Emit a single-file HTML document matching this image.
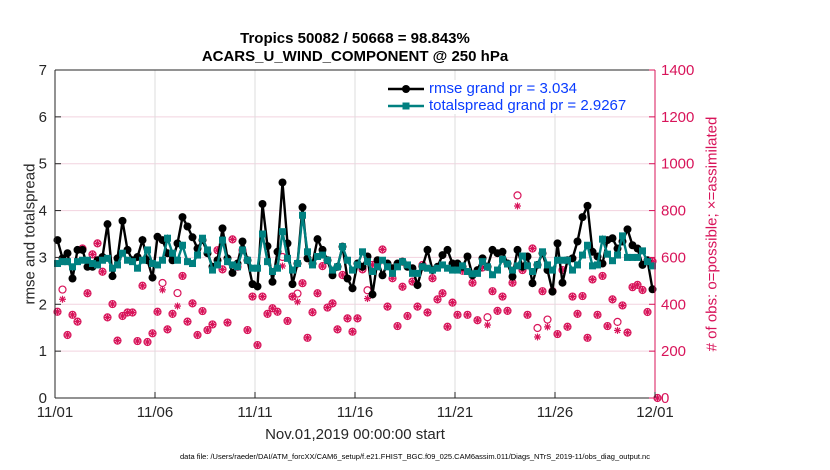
<!DOCTYPE html>
<html><head><meta charset="utf-8"><style>
body{margin:0;background:#fff;}
svg{display:block;font-family:"Liberation Sans",sans-serif;}
</style></head><body>
<svg id="chart" width="830" height="470" viewBox="0 0 830 470"></svg>
<script>
const rmse=[3.37,2.98,3.09,2.55,3.16,3.16,2.80,2.80,2.94,3.01,3.71,2.60,2.98,3.78,3.16,2.94,3.01,3.37,2.94,2.57,3.44,3.37,3.09,2.94,3.30,3.86,3.66,3.43,3.19,3.37,3.09,2.80,2.94,3.62,2.98,2.67,2.87,3.34,2.94,2.43,2.38,
4.14,3.24,2.48,3.12,4.60,3.30,2.43,2.87,4.07,2.98,2.87,3.39,3.16,2.94,2.62,2.80,3.23,2.55,2.34,2.87,2.80,3.02,2.21,2.94,2.62,2.87,2.77,2.87,2.91,2.80,2.77,2.41,2.80,3.16,2.73,2.80,3.05,3.16,2.87,2.87,
2.80,3.02,2.62,2.73,2.98,2.80,3.16,3.09,3.12,2.87,2.59,3.16,2.80,3.02,2.45,2.84,3.09,2.73,2.27,3.30,2.46,2.94,2.98,3.34,3.86,4.10,3.12,3.02,2.87,3.37,3.41,3.19,3.34,3.60,3.26,3.19,2.84,2.94,2.32];
const spread=[2.87,2.91,2.91,2.80,2.91,2.94,2.94,2.87,2.84,2.94,2.98,2.77,2.84,3.09,2.94,2.91,2.77,2.94,3.16,2.87,2.84,2.94,3.41,3.09,2.94,3.26,2.91,2.87,3.05,3.41,3.16,2.73,2.84,3.37,2.91,2.84,2.80,3.16,2.94,2.77,2.77,
3.50,2.91,2.70,2.77,3.55,2.98,2.73,2.87,3.90,3.12,2.84,3.02,3.05,2.94,2.73,2.80,3.23,2.94,2.73,2.84,3.12,2.91,2.70,2.80,2.94,2.80,2.66,2.80,2.91,2.84,2.66,2.66,2.80,2.77,2.73,2.77,2.84,2.77,2.73,2.73,
2.82,2.70,2.65,2.66,2.91,2.80,2.63,2.73,2.96,2.86,2.73,2.82,3.03,2.82,2.70,2.84,3.12,2.84,2.73,2.94,2.94,2.94,2.73,2.84,3.05,3.26,2.82,2.84,3.39,3.07,2.93,3.05,3.46,3.00,3.00,3.00,3.14,2.91,2.82];
const possible=[368,450,269,355,326,638,447,613,660,539,344,401,245,350,365,365,243,479,239,276,368,478,293,359,435,521,326,404,269,371,290,314,631,549,322,677,560,631,290,433,226,
433,359,383,368,589,329,433,433,490,257,366,447,563,386,404,293,525,340,283,340,549,447,568,575,634,390,511,307,475,350,497,390,568,365,511,421,447,304,407,355,
543,355,492,332,557,332,456,372,433,372,492,852,546,355,638,286,456,322,456,273,546,304,433,359,435,257,506,355,521,307,421,312,395,279,473,483,461,367,583,0];
const assimilated=[368,430,269,355,326,638,447,613,660,539,344,401,245,350,365,365,243,479,239,276,368,470,293,359,401,521,326,404,269,371,290,314,631,549,322,677,560,631,290,433,226,
433,359,383,368,572,329,433,419,490,257,366,447,563,386,404,293,525,340,283,340,549,433,568,575,634,390,511,307,475,350,497,390,568,365,511,421,447,304,407,355,
543,355,492,332,557,320,456,372,433,372,492,828,546,355,638,269,456,312,456,273,546,304,433,359,435,257,506,355,521,307,421,297,395,279,473,483,461,367,583,0];
const yTicks=[0,1,2,3,4,5,6,7];
const y2Ticks=[0,200,400,600,800,1000,1200,1400];
const xTickLabels=["11/01","11/06","11/11","11/16","11/21","11/26","12/01"];
const xTickDays=[0,5,10,15,20,25,30];

const NS="http://www.w3.org/2000/svg";
const svg=document.getElementById('chart');
const L=55,R=655,T=70,B=398;
const X=d=>L+(R-L)*d/30;
const Y=v=>B-(B-T)*v/7;
const Y2=v=>B-(B-T)*v/1400;
const tIdx=i=>0.125+0.25*i;
const MAG="#d8145a";
function el(tag,attrs,parent){const e=document.createElementNS(NS,tag);for(const k in attrs)e.setAttribute(k,attrs[k]);(parent||svg).appendChild(e);return e;}
function txt(s,attrs,parent){const e=el('text',attrs,parent);e.textContent=s;return e;}

yTicks.forEach(v=>{const g=el('line',{x1:L,x2:R,y1:Y(v),y2:Y(v),stroke:"#f2d3df","stroke-width":1});
});
xTickDays.forEach(d=>{const g=el('line',{x1:X(d),x2:X(d),y1:T,y2:B,stroke:"#dddddd","stroke-width":1});
});

const obs=el('g',{});
possible.forEach((v,i)=>{const c=el('circle',{cx:X(tIdx(i)),cy:Y2(v)-(v!==assimilated[i]?3:0),r:3.5,fill:"none",stroke:MAG,"stroke-width":1.2},obs);
});
assimilated.forEach((v,i)=>{const x=X(tIdx(i)),y=Y2(v)+(v!==possible[i]?2:0);const g=el('g',{stroke:MAG,"stroke-width":1.2},obs);

el('line',{x1:x-3.5,x2:x+3.5,y1:y,y2:y},g);el('line',{x1:x,x2:x,y1:y-3.5,y2:y+3.5},g);
el('line',{x1:x-2.5,x2:x+2.5,y1:y-2.5,y2:y+2.5},g);el('line',{x1:x-2.5,x2:x+2.5,y1:y+2.5,y2:y-2.5},g);});

const rl=el('polyline',{points:rmse.map((v,i)=>X(tIdx(i))+","+Y(v)).join(" "),fill:"none",stroke:"#000","stroke-width":2.4});

rmse.forEach((v,i)=>{const c=el('circle',{cx:X(tIdx(i)),cy:Y(v),r:4,fill:"#000"});
});
const sl=el('polyline',{points:spread.map((v,i)=>X(tIdx(i))+","+Y(v)).join(" "),fill:"none",stroke:"#008080","stroke-width":2.4});

spread.forEach((v,i)=>{const r=el('rect',{x:X(tIdx(i))-3.5,y:Y(v)-3.5,width:7,height:7,fill:"#008080"});
});

el('line',{x1:L,x2:R,y1:T,y2:T,stroke:"#262626"});
el('line',{x1:L,x2:R,y1:B,y2:B,stroke:"#262626"});
el('line',{x1:L,x2:L,y1:T,y2:B,stroke:"#262626"});
el('line',{x1:R,x2:R,y1:T,y2:B,stroke:MAG});
yTicks.forEach(v=>{el('line',{x1:L,x2:L+6,y1:Y(v),y2:Y(v),stroke:"#262626"});
const t=txt(String(v),{x:L-8,y:Y(v)+5,"text-anchor":"end","font-size":15,fill:"#262626"});
});
y2Ticks.forEach(v=>{el('line',{x1:R-6,x2:R,y1:Y2(v),y2:Y2(v),stroke:MAG});
const t=txt(String(v),{x:R+6,y:Y2(v)+5,"font-size":15,fill:MAG});
});
xTickDays.forEach((d,i)=>{el('line',{x1:X(d),x2:X(d),y1:B,y2:B-6,stroke:"#262626"});
const t=txt(xTickLabels[i],{x:X(d),y:B+19,"text-anchor":"middle","font-size":15,fill:"#262626"});
});
</script>
<div style="position:absolute;left:0;top:0;width:830px;height:470px;pointer-events:none;font-family:'Liberation Sans',sans-serif;">
<div style="position:absolute;left:55px;width:600px;top:30px;text-align:center;font-weight:bold;font-size:15px;line-height:18px;color:#000;">Tropics 50082 / 50668 = 98.843%<br>ACARS_U_WIND_COMPONENT @ 250 hPa</div>
<div style="position:absolute;left:30px;top:234px;transform:translate(-50%,-50%) rotate(-90deg);white-space:nowrap;font-size:15px;color:#262626;">rmse and totalspread</div>
<div style="position:absolute;left:712px;top:234px;transform:translate(-50%,-50%) rotate(-90deg);white-space:nowrap;font-size:15px;color:#d8145a;"># of obs: o=possible; &#215;=assimilated</div>
<div style="position:absolute;left:55px;width:600px;top:426px;text-align:center;font-size:15px;color:#262626;">Nov.01,2019 00:00:00 start</div>
<div style="position:absolute;left:0;width:830px;top:452px;text-align:center;font-size:7.5px;color:#000;">data file: /Users/raeder/DAI/ATM_forcXX/CAM6_setup/f.e21.FHIST_BGC.f09_025.CAM6assim.011/Diags_NTrS_2019-11/obs_diag_output.nc</div>
<div style="position:absolute;left:386px;top:80px;width:262px;height:34px;background:#fff;">
 <div style="position:absolute;left:0;top:0;height:17px;width:262px;">
  <svg width="40" height="17" style="position:absolute;left:0;top:0"><line x1="2" x2="38" y1="9" y2="9" stroke="#000" stroke-width="2.4"/><circle cx="20" cy="9" r="4" fill="#000"/></svg>
  <span style="position:absolute;left:43px;top:0;font-size:15px;color:#0a3cff;white-space:nowrap;">rmse grand pr = 3.034</span></div>
 <div style="position:absolute;left:0;top:17px;height:17px;width:262px;">
  <svg width="40" height="17" style="position:absolute;left:0;top:0"><line x1="2" x2="38" y1="9" y2="9" stroke="#008080" stroke-width="2.4"/><rect x="16.5" y="5.5" width="7" height="7" fill="#008080"/></svg>
  <span style="position:absolute;left:43px;top:0;font-size:15px;color:#0a3cff;white-space:nowrap;">totalspread grand pr = 2.9267</span></div>
</div>
</div>
</body></html>
